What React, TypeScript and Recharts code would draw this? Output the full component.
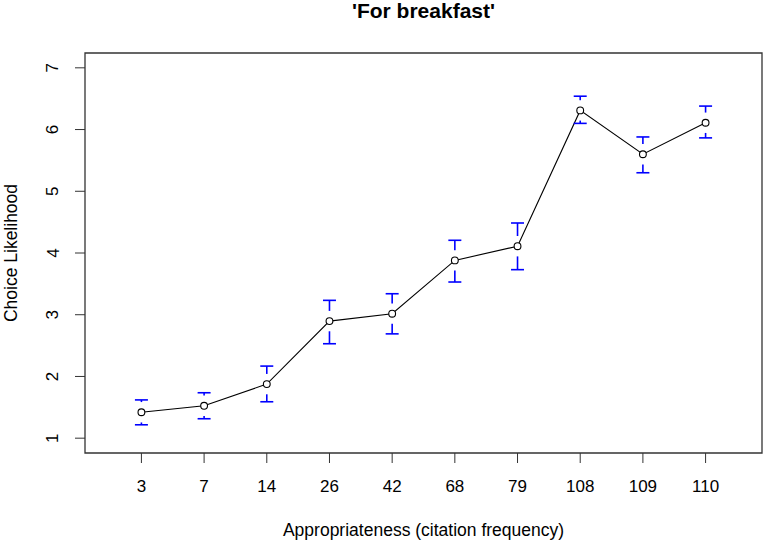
import React from "react";
import {
  ComposedChart,
  Line,
  Scatter,
  XAxis,
  YAxis,
  ReferenceArea,
  ReferenceLine,
} from "recharts";

// values
const categories = ["3", "7", "14", "26", "42", "68", "79", "108", "109", "110"];
const means = [1.42, 1.525, 1.876, 2.897, 3.017, 3.88, 4.11, 6.31, 5.6, 6.11];
const upper = [1.62, 1.736, 2.168, 3.233, 3.34, 4.206, 4.486, 6.54, 5.88, 6.38];
const lower = [1.217, 1.315, 1.59, 2.53, 2.69, 3.53, 3.73, 6.1, 5.3, 5.865];
const yTicks = [1, 2, 3, 4, 5, 6, 7];

// gap left open around each point (data units), like gplots' plotCI
const GAP = 0.165;

const FONT = "'Liberation Sans', Arial, sans-serif";
const BLUE = "#0000ff";
const INK = "#333";

const data = categories.map((label, i) => ({
  x: i + 1,
  label,
  mean: means[i],
  hi: upper[i],
  lo: lower[i],
}));

const XTick = ({ x, y, payload }: any) => (
  <text
    x={x}
    y={y + 21}
    textAnchor="middle"
    dominantBaseline="central"
    fontFamily={FONT}
    fontSize={17}
    fill="#000"
  >
    {categories[payload.value - 1]}
  </text>
);

const YTick = ({ x, y, payload }: any) => (
  <text
    x={x - 20}
    y={y}
    textAnchor="middle"
    dominantBaseline="central"
    fontFamily={FONT}
    fontSize={17}
    fill="#000"
    transform={`rotate(-90, ${x - 20}, ${y})`}
  >
    {payload.value}
  </text>
);

const XTitle = ({ viewBox }: any) => (
  <text
    x={viewBox.x + viewBox.width / 2}
    y={viewBox.y + 77}
    textAnchor="middle"
    dominantBaseline="central"
    fontFamily={FONT}
    fontSize={17.5}
    fill="#000"
  >
    Appropriateness (citation frequency)
  </text>
);

const YTitle = ({ viewBox }: any) => {
  const cx = 11;
  const cy = viewBox.y + viewBox.height / 2;
  return (
    <text
      x={cx}
      y={cy}
      textAnchor="middle"
      dominantBaseline="central"
      fontFamily={FONT}
      fontSize={17.5}
      fill="#000"
      transform={`rotate(-90, ${cx}, ${cy})`}
    >
      Choice Likelihood
    </text>
  );
};

const Cap = ({ cx, cy }: any) => (
  <line x1={cx - 6.5} x2={cx + 6.5} y1={cy} y2={cy} stroke={BLUE} strokeWidth={1.6} />
);

export default function App() {
  const stems: { x: number; from: number; to: number }[] = [];
  data.forEach((d) => {
    if (d.hi - d.mean > GAP) stems.push({ x: d.x, from: d.hi, to: d.mean + GAP });
    if (d.mean - d.lo > GAP) stems.push({ x: d.x, from: d.lo, to: d.mean - GAP });
  });

  return (
    <div style={{ position: "absolute", left: 0, top: 0, width: 765, height: 542, background: "#fff" }}>
      <div
        style={{
          position: "absolute",
          left: 85,
          top: 0,
          width: 677,
          height: 21,
          lineHeight: "21px",
          textAlign: "center",
          fontFamily: FONT,
          fontWeight: "bold",
          fontSize: 21,
          color: "#000",
        }}
      >
        'For breakfast'
      </div>
      <ComposedChart
        width={765}
        height={542}
        data={data}
        margin={{ top: 53, right: 3, bottom: 0, left: 0 }}
      >
        <XAxis
          type="number"
          dataKey="x"
          domain={[0.1, 10.9]}
          ticks={data.map((d) => d.x)}
          allowDataOverflow
          height={89}
          axisLine={false}
          tickLine={{ stroke: INK }}
          tickSize={10}
          tick={<XTick />}
          label={<XTitle />}
        />
        <YAxis
          type="number"
          domain={[0.76, 7.24]}
          ticks={yTicks}
          allowDataOverflow
          width={85}
          axisLine={false}
          tickLine={{ stroke: INK }}
          tickSize={10}
          tick={<YTick />}
          label={<YTitle />}
        />
        <ReferenceArea
          x1={0.1}
          x2={10.9}
          y1={0.76}
          y2={7.24}
          fill="none"
          stroke={INK}
          strokeWidth={1.3}
          ifOverflow="visible"
        />
        {stems.map((s, i) => (
          <ReferenceLine
            key={i}
            segment={[
              { x: s.x, y: s.from },
              { x: s.x, y: s.to },
            ]}
            stroke={BLUE}
            strokeWidth={1.6}
          />
        ))}
        <Scatter dataKey="hi" shape={<Cap />} isAnimationActive={false} />
        <Scatter dataKey="lo" shape={<Cap />} isAnimationActive={false} />
        <Line
          type="linear"
          dataKey="mean"
          stroke="#000"
          strokeWidth={1.1}
          dot={{ r: 3.4, stroke: "#000", strokeWidth: 1.1, fill: "#fff" }}
          isAnimationActive={false}
        />
      </ComposedChart>
    </div>
  );
}
